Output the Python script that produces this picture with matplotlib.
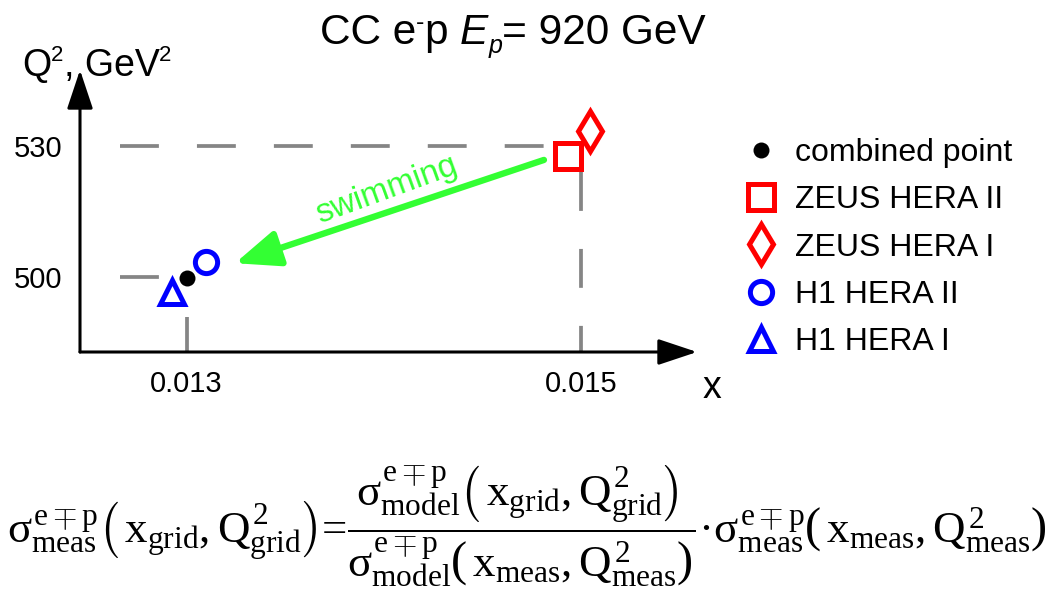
import matplotlib
matplotlib.use("Agg")
import matplotlib.pyplot as plt

plt.rcParams['font.family'] = ['Liberation Sans', 'DejaVu Sans']
plt.rcParams['mathtext.fontset'] = 'custom'
plt.rcParams['mathtext.rm'] = 'Liberation Serif'
plt.rcParams['mathtext.it'] = 'Liberation Serif'
plt.rcParams['mathtext.bf'] = 'Liberation Serif:bold'
plt.rcParams['lines.scale_dashes'] = False

# ---- data ----
labels = ['combined point', 'ZEUS HERA II', 'ZEUS HERA I', 'H1 HERA II', 'H1 HERA I']
x_vals = [0.013003, 0.014934, 0.015048, 0.013101, 0.012926]
q2_vals = [499.7, 527.8, 533.4, 503.3, 496.6]
grid_x = [0.013, 0.015]
grid_q2 = [500, 530]
x_ticklabels = ['0.013', '0.015']
q2_ticklabels = ['500', '530']

markers = ['o', 's', 'd', 'o', '^']
colors = ['black', '#ff0000', '#ff0000', '#0000ff', '#0000ff']
filled = [True, False, False, False, False]
msizes = [11.5, 18.5, 20, 16, 17]

W, H = 1054, 589
fig = plt.figure(figsize=(W / 100, H / 100), dpi=100)
ax = fig.add_axes([80 / W, 1 - 352 / H, (697 - 80) / W, (352 - 70) / H])
ax.set_xlim(0.012460, 0.015588)
ax.set_ylim(482.72, 547.44)
for s in ax.spines.values():
    s.set_visible(False)
ax.patch.set_alpha(0)

# axes arrows
arrow_kw = dict(arrowstyle='-|>,head_length=24,head_width=8', lw=2.2, color='black',
                shrinkA=0, shrinkB=0, mutation_scale=1)
ax.annotate('', xy=(1, 0), xytext=(0, 0), xycoords='axes fraction', arrowprops=arrow_kw)
ax.annotate('', xy=(0, 1), xytext=(0, 0), xycoords='axes fraction', arrowprops=arrow_kw)

# dashed guide lines
dash_kw = dict(color='#858585', lw=2.7, dashes=(28, 27.4), solid_capstyle='butt',
               dash_capstyle='butt', zorder=1)
ax.plot([0.012663, 0.01490], [grid_q2[1], grid_q2[1]], **dash_kw)
ax.plot([grid_x[1], grid_x[1]], [524.0, 482.72], **dash_kw)
ax.plot([0.012663, grid_x[0]], [grid_q2[0], grid_q2[0]], **dash_kw)
ax.plot([grid_x[0], grid_x[0]], [490.75, 482.72], **dash_kw)

# points
handles = []
for xv, qv, m, c, f, ms, lab in zip(x_vals, q2_vals, markers, colors, filled, msizes, labels):
    h, = ax.plot([xv], [qv], linestyle='none', marker=m, markersize=ms,
                 markerfacecolor=c if f else 'white', markeredgecolor=c,
                 markeredgewidth=0 if f else 3.6, label=lab, zorder=3)
    handles.append(h)

# swimming arrow
ax.annotate('', xy=(0.013246, 503.1), xytext=(0.014812, 526.8), xycoords='data',
            arrowprops=dict(arrowstyle='-|>,head_length=27,head_width=11', lw=4.6,
                            color='#33ff33', shrinkA=0, shrinkB=0, mutation_scale=1),
            zorder=2)
ax.text(0.014016, 519.8, 'swimming', color='#33ff33', fontsize=24, rotation=20,
        ha='center', va='center', rotation_mode='anchor')

# ticks
ax.set_xticks(grid_x, labels=x_ticklabels)
ax.set_yticks(grid_q2, labels=q2_ticklabels)
ax.tick_params(axis='both', length=0, labelsize=21)
ax.tick_params(axis='x', pad=13)
ax.tick_params(axis='y', pad=13)

# axis labels
fig.text(712 / W, 1 - 388 / H, 'x', fontsize=27, ha='center', va='center')

ylab = fig.text(22 / W, 1 - 84 / H, 'Q', fontsize=27, ha='left', va='bottom')
ys = ax.annotate('2', xy=(1, 0.5), xycoords=ylab, fontsize=16, ha='left', va='bottom')
yr = ax.annotate(', GeV', xy=(1, 0), xycoords=(ys, ylab), fontsize=27, ha='left', va='bottom')
ax.annotate('2', xy=(1, 0.5), xycoords=yr, fontsize=16, ha='left', va='bottom')

# title
t0 = fig.text(320 / W, 1 - 53 / H, 'CC e', fontsize=30.5, ha='left', va='bottom')
t1 = ax.annotate('-', xy=(1, 0.45), xycoords=t0, fontsize=18, ha='left', va='bottom')
t2 = ax.annotate('p ', xy=(1, 0), xycoords=(t1, t0), fontsize=30.5, ha='left', va='bottom')
t3 = ax.annotate('E', xy=(1, 0), xycoords=t2, fontsize=30.5, ha='left', va='bottom', style='italic')
t4 = ax.annotate('p', xy=(1, -0.13), xycoords=t3, fontsize=18, ha='left', va='bottom', style='italic')
ax.annotate('= 920 GeV', xy=(1, 0), xycoords=(t4, t3), fontsize=30.5, ha='left', va='bottom')

# legend
ax.legend(handles=handles, loc='upper left', bbox_to_anchor=(745 / W, 1 - 138 / H),
          bbox_transform=fig.transFigure, frameon=False, fontsize=23, handlelength=1.0,
          handletextpad=0.55, labelspacing=0.54, borderpad=0, borderaxespad=0, numpoints=1)

# formula
formula = (r'$\sigma^{e\mp p}_{meas}\left(\,x_{grid},Q^{2}_{grid}\right)$=$'
           r'\dfrac{\sigma^{e\mp p}_{model}\left(\,x_{grid},Q^{2}_{grid}\right)}'
           r'{\sigma^{e\mp p}_{model}\left(\,x_{meas},Q^{2}_{meas}\right)}$'
           r'·$\sigma^{e\mp p}_{meas}\left(\,x_{meas},Q^{2}_{meas}\right)$')
fig.text(0.5, 1 - 526 / H, formula, fontsize=32.3, ha='center', va='center',
         family=['Liberation Serif'])

fig.savefig('out.png', dpi=100)
